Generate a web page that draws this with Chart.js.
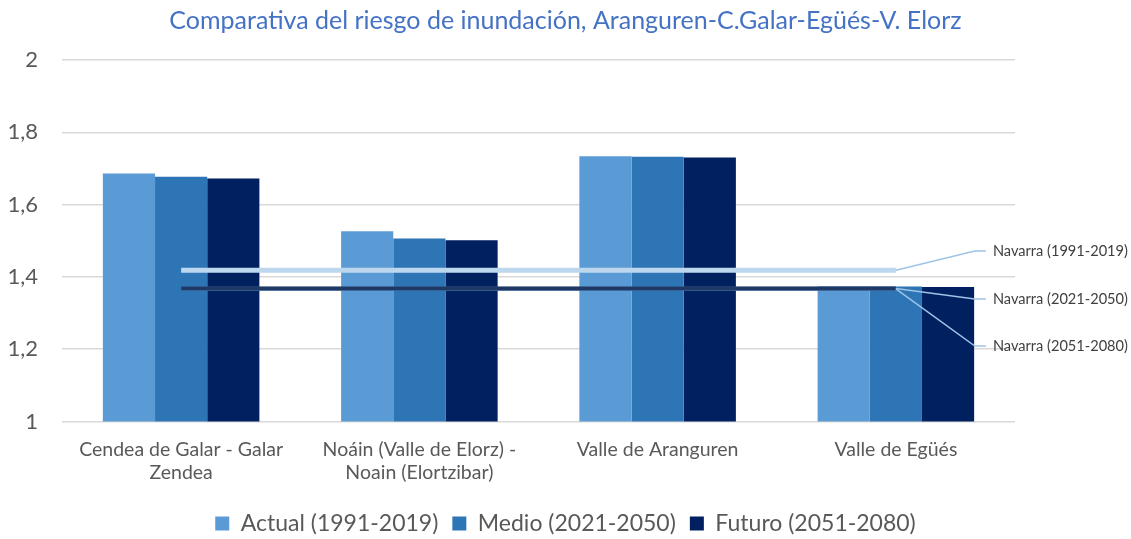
<!DOCTYPE html>
<html><head><meta charset="utf-8">
<script src="https://cdn.jsdelivr.net/npm/chart.js@4"></script>
<style>html,body{margin:0;padding:0;background:#fff;}#wrap{width:1131px;height:539px;}</style>
</head><body><div id="wrap"><canvas id="c"></canvas></div>
<script>
const categories = [["Cendea de Galar - Galar","Zendea"],["Noáin (Valle de Elorz) -","Noain (Elortzibar)"],"Valle de Aranguren","Valle de Egüés"];
const actual = [1.686, 1.526, 1.734, 1.374];
const medio = [1.677, 1.506, 1.732, 1.373];
const futuro = [1.672, 1.501, 1.730, 1.372];
const navarra1 = 1.418, navarra2 = 1.368, navarra3 = 1.367;
const navLabels = ["Navarra (1991-2019)","Navarra (2021-2050)","Navarra (2051-2080)"];
const yTicks = [1,1.2,1.4,1.6,1.8,2];

const FONT = "Lato, 'Open Sans', sans-serif";
const labelPlugin = {
  id:'navLabels',
  afterDatasetsDraw(chart){
    const ctx = chart.ctx;
    ctx.save();
    [3,5,4].forEach((di,k)=>{
      const meta = chart.getDatasetMeta(di);
      const p = meta.data[meta.data.length-1];
      const ty = [251,299,346][k];
      ctx.strokeStyle = '#9DC3E6'; ctx.lineWidth = 1.5;
      ctx.beginPath(); ctx.moveTo(p.x, p.y); ctx.lineTo(p.x+79, ty); ctx.lineTo(p.x+90, ty); ctx.stroke();
      ctx.fillStyle = '#404040'; ctx.font = "14.6px " + FONT; ctx.textBaseline='middle'; ctx.textAlign='left';
      ctx.fillText(navLabels[k], p.x+97, ty);
    });
    ctx.restore();
  }
};

new Chart(document.getElementById('c'), {
  data: {
    labels: categories,
    datasets: [
      {type:'bar', label:'Actual (1991-2019)', data:actual, backgroundColor:'#5B9BD5', order:2},
      {type:'bar', label:'Medio (2021-2050)', data:medio, backgroundColor:'#2E75B6', order:2},
      {type:'bar', label:'Futuro (2051-2080)', data:futuro, backgroundColor:'#002060', order:2},
      {type:'line', label:navLabels[0], data:categories.map(()=>navarra1), borderColor:'#BDD7EE', borderWidth:5, pointRadius:0, order:1},
      {type:'line', label:navLabels[2], data:categories.map(()=>navarra3), borderColor:'#5B9BD5', borderWidth:4, pointRadius:0, order:1},
      {type:'line', label:navLabels[1], data:categories.map(()=>navarra2), borderColor:'#203864', borderWidth:4, pointRadius:0, order:0}
    ]
  },
  options: {
    responsive:true, maintainAspectRatio:false, animation:false,
    layout:{padding:{left:0,right:0,top:0,bottom:-6}},
    datasets:{bar:{categoryPercentage:0.657, barPercentage:1}},
    plugins:{
      title:{display:true, text:'Comparativa del riesgo de inundación, Aranguren-C.Galar-Egüés-V. Elorz', color:'#4472C4', font:{family:FONT,size:25,weight:'normal'}, padding:{top:6,bottom:24}},
      legend:{position:'bottom', labels:{filter:(it)=>it.datasetIndex<3, color:'#595959', boxWidth:14, boxHeight:14, padding:14, font:{family:FONT,size:23}}},
      tooltip:{enabled:false}
    },
    scales:{
      x:{grid:{display:false}, border:{display:false}, afterFit:(s)=>{s.height+=5;}, ticks:{color:'#595959', font:{family:FONT,size:19.5,lineHeight:1.22}, maxRotation:0, padding:8}},
      y:{min:1, max:2, afterBuildTicks:(s)=>{s.ticks=yTicks.map(v=>({value:v}));}, afterFit:(s)=>{s.width=62;},
         grid:{color:'#D9D9D9', lineWidth:1.5, drawTicks:false}, border:{display:false},
         ticks:{color:'#595959', font:{family:FONT,size:22}, padding:24, callback:(v)=>String(v).replace('.',',')}},
      yRight:{type:'linear', axis:'y', position:'right', display:true, min:1, max:2, grid:{display:false}, border:{display:false}, ticks:{display:false}, afterFit:(s)=>{s.width=116;}}
    }
  },
  plugins:[labelPlugin]
});
</script></body></html>
